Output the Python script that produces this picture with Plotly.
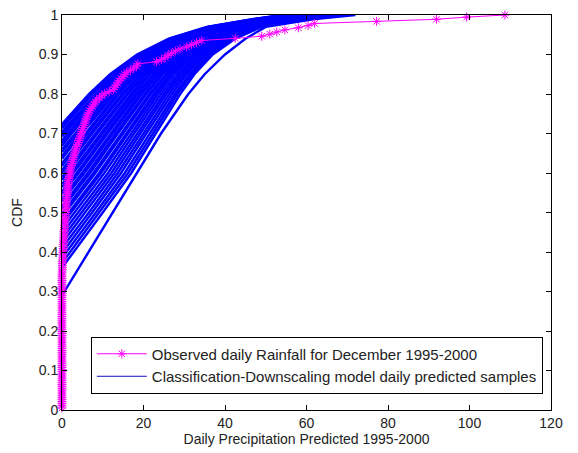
import plotly.graph_objects as go

# CDF levels at which the predicted sample curves were read
cdf_levels = [0.40, 0.50, 0.60, 0.70, 0.80, 0.85, 0.90, 0.94, 0.97, 0.99, 1.00]

# CDF value at zero rainfall (dry-day fraction) of each predicted sample
sample_dry_fraction = [
    0.724, 0.718, 0.713, 0.704, 0.698, 0.692, 0.682, 0.676, 0.669, 0.660,
    0.653, 0.643, 0.636, 0.625, 0.618, 0.607, 0.600, 0.589, 0.582, 0.572,
    0.564, 0.553, 0.546, 0.535, 0.528, 0.516, 0.509, 0.497, 0.489, 0.478,
    0.470, 0.458, 0.446, 0.434, 0.422, 0.410, 0.397, 0.385, 0.372, 0.360,
    0.290,
]

# rainfall (mm) of each predicted sample at the highest len(row) CDF levels
sample_rain_at_levels = [
    [6.6, 11.8, 18.4, 26.2, 35.5, 47.0, 54.0],
    [7.1, 12.2, 18.8, 26.5, 35.8, 47.3, 54.3],
    [7.5, 12.6, 19.1, 26.9, 36.0, 47.6, 54.6],
    [8.2, 13.2, 19.7, 27.3, 36.5, 48.0, 55.1],
    [0.2, 8.6, 13.7, 20.1, 27.7, 36.7, 48.3, 55.4],
    [0.7, 9.1, 14.1, 20.5, 28.0, 37.0, 48.5, 55.8],
    [1.4, 9.7, 14.7, 21.0, 28.5, 37.4, 49.0, 56.2],
    [1.9, 10.2, 15.1, 21.4, 28.8, 37.7, 50.6, 56.6],
    [2.4, 10.6, 15.5, 21.8, 29.1, 37.9, 49.5, 56.9],
    [3.2, 11.3, 16.2, 22.3, 29.6, 38.3, 49.9, 57.4],
    [3.7, 11.8, 16.6, 22.7, 30.0, 38.6, 50.2, 57.7],
    [4.4, 12.4, 17.2, 23.2, 30.4, 39.0, 50.6, 58.2],
    [4.9, 12.9, 17.6, 23.6, 30.8, 39.3, 50.9, 58.5],
    [5.7, 13.5, 18.2, 24.2, 31.3, 39.7, 51.3, 59.0],
    [6.2, 14.0, 18.6, 24.5, 31.6, 40.0, 51.6, 59.3],
    [6.9, 14.7, 19.3, 25.1, 32.1, 40.4, 52.0, 59.8],
    [7.4, 15.1, 19.7, 25.5, 32.4, 40.6, 52.3, 60.1],
    [0.8, 8.2, 15.8, 20.3, 26.0, 32.9, 41.0, 52.7, 60.6],
    [1.4, 8.7, 16.2, 20.7, 26.4, 33.2, 41.3, 53.0, 60.9],
    [2.2, 9.5, 16.9, 21.3, 27.0, 33.7, 41.7, 53.4, 61.4],
    [2.8, 10.0, 17.4, 21.7, 27.3, 34.0, 42.0, 53.7, 61.7],
    [3.6, 10.7, 18.0, 22.4, 27.9, 34.5, 42.4, 54.1, 62.2],
    [4.1, 11.2, 18.5, 22.8, 28.3, 34.8, 42.7, 54.4, 62.5],
    [4.9, 12.0, 19.1, 23.4, 28.8, 35.3, 43.1, 54.8, 63.0],
    [5.5, 12.5, 19.6, 23.8, 29.2, 35.7, 43.3, 55.1, 63.3],
    [6.3, 13.2, 20.3, 24.4, 29.8, 36.1, 43.7, 55.5, 63.8],
    [6.9, 13.7, 20.7, 24.8, 30.1, 36.5, 44.0, 55.8, 64.1],
    [0.2, 7.7, 14.5, 21.4, 25.5, 30.7, 37.0, 44.4, 56.2, 64.6],
    [0.8, 8.2, 15.0, 21.8, 25.9, 31.1, 37.3, 44.7, 56.5, 64.9],
    [1.7, 9.1, 15.7, 22.5, 26.5, 31.6, 37.8, 45.1, 56.9, 65.4],
    [2.2, 9.6, 16.2, 23.0, 26.9, 32.0, 38.1, 45.4, 57.2, 65.7],
    [3.1, 10.4, 17.0, 23.6, 27.5, 32.5, 38.6, 45.8, 57.6, 66.2],
    [4.0, 11.3, 17.7, 24.3, 28.2, 33.1, 39.1, 46.2, 58.1, 66.6],
    [4.8, 12.1, 18.5, 25.0, 28.8, 33.7, 39.6, 46.6, 58.5, 67.1],
    [5.7, 12.9, 19.2, 25.6, 29.4, 34.2, 40.1, 47.0, 58.9, 67.6],
    [6.6, 13.7, 20.0, 26.3, 30.0, 34.8, 40.5, 47.4, 59.3, 68.1],
    [0.2, 7.4, 14.5, 20.7, 27.0, 30.6, 35.3, 41.0, 47.8, 59.7, 68.6],
    [1.1, 8.3, 15.4, 21.5, 27.7, 31.3, 35.9, 41.5, 48.2, 60.2, 69.0],
    [2.0, 9.1, 16.2, 22.3, 28.3, 31.9, 36.4, 42.0, 48.6, 60.6, 69.5],
    [2.9, 10.0, 17.0, 23.0, 29.0, 32.5, 37.0, 42.5, 49.0, 61.0, 70.0],
    [6.5, 12.5, 18.3, 24.3, 31.0, 35.0, 40.0, 45.0, 50.0, 62.0, 72.0],
]

# observed daily rainfall, December 1995-2000 (mm), sorted
observed_daily_rain_sorted = [
    0.0, 0.0, 0.0, 0.0, 0.0, 0.0, 0.0, 0.0, 0.0, 0.0,
    0.0, 0.0, 0.0, 0.0, 0.0, 0.0, 0.0, 0.0, 0.0, 0.0,
    0.0, 0.0, 0.0, 0.0, 0.0, 0.0, 0.0, 0.0, 0.0, 0.0,
    0.0, 0.0, 0.0, 0.0, 0.0, 0.0, 0.0, 0.0, 0.0, 0.0,
    0.0, 0.0, 0.0, 0.0, 0.0, 0.0, 0.0, 0.0, 0.0, 0.0,
    0.0, 0.0, 0.0, 0.0, 0.0, 0.0, 0.0, 0.0, 0.0, 0.0,
    0.0, 0.0, 0.0, 0.0, 0.0,
    0.1, 0.1, 0.1, 0.1, 0.1, 0.2, 0.2, 0.2, 0.2, 0.3, 0.3, 0.3, 0.3,
    0.4, 0.4, 0.4, 0.5, 0.5, 0.5, 0.6, 0.6, 0.6, 0.7, 0.7,
    0.8, 0.8, 0.8, 0.9, 0.9, 1.0, 1.0, 1.0,
    1.1, 1.1, 1.2, 1.2, 1.3, 1.3, 1.4, 1.4, 1.5, 1.5,
    1.6, 1.7, 1.8, 1.9, 2.0, 2.0,
    2.1, 2.3, 2.4, 2.5, 2.7, 2.8, 3.0, 3.1, 3.3, 3.4, 3.6,
    3.8, 4.0, 4.1, 4.3, 4.5, 4.7, 4.8, 5.0, 5.2,
    5.4, 5.6, 5.7, 5.9, 6.1, 6.3, 6.5,
    6.8, 7.1, 7.5, 7.8, 8.2, 8.5,
    9.2, 9.8, 10.5, 11.6, 12.6,
    12.9, 13.3, 13.6, 14.0, 14.5, 15.0, 15.4, 15.9,
    16.8, 17.6, 18.3, 18.6,
    23.2, 24.4, 25.3, 26.0, 26.8, 27.8, 29.0, 30.6, 31.8, 33.0, 34.3,
    42.5, 49.0, 51.0, 52.7, 54.7, 58.0, 60.4, 62.0, 77.2, 91.9, 99.3, 108.7,
]

x_ticks = [0, 20, 40, 60, 80, 100, 120]
y_ticks = [0, 0.1, 0.2, 0.3, 0.4, 0.5, 0.6, 0.7, 0.8, 0.9, 1.0]
y_tick_text = ["0", "0.1", "0.2", "0.3", "0.4", "0.5", "0.6",
               "0.7", "0.8", "0.9", "1"]

FONT = "Arial, Liberation Sans, Helvetica, sans-serif"
TXT = "#222222"
BLUE = "#0000FF"
MAGENTA = "#FF00FF"
PRED_NAME = "Classification-Downscaling model daily predicted samples"

# predicted samples: one trace, curves separated by None
bx, by = [], []
for p0, row in zip(sample_dry_fraction, sample_rain_at_levels):
    lv = cdf_levels[len(cdf_levels) - len(row):]
    bx += [0.0] + row + [None]
    by += [p0] + lv + [None]

n_obs = len(observed_daily_rain_sorted)
obs_cdf = [(i + 1) / n_obs for i in range(n_obs)]

fig = go.Figure()
fig.add_trace(go.Scatter(
    x=bx, y=by, mode="lines",
    line=dict(color=BLUE, width=2.4),
    name=PRED_NAME, showlegend=False, hoverinfo="skip",
))
fig.add_trace(go.Scatter(
    x=observed_daily_rain_sorted, y=obs_cdf, mode="lines+markers",
    line=dict(color=MAGENTA, width=1),
    marker=dict(symbol="asterisk-open", size=7.5, color=MAGENTA,
                line=dict(color=MAGENTA, width=1)),
    cliponaxis=False,
    name="Observed daily Rainfall for December 1995-2000",
    legendrank=1,
))
# legend entry for the predicted samples (thin line like the original key)
fig.add_trace(go.Scatter(
    x=[None], y=[None], mode="lines",
    line=dict(color="#1010C0", width=1),
    name=PRED_NAME, legendrank=2,
))

axis_common = dict(
    showgrid=False, zeroline=False, showline=True, linecolor="black",
    linewidth=1, mirror="ticks", ticks="inside", ticklen=5, tickcolor="black",
    tickfont=dict(family=FONT, size=14, color=TXT), automargin=False,
)

fig.update_layout(
    width=578, height=453, autosize=False,
    margin=dict(l=62, r=27, t=15, b=43),
    paper_bgcolor="white", plot_bgcolor="white",
    font=dict(family=FONT, size=14, color=TXT),
    xaxis=dict(range=[0, 120], tickvals=x_ticks,
               title=dict(text="Daily Precipitation Predicted 1995-2000",
                          font=dict(family=FONT, size=14, color=TXT),
                          standoff=2),
               **axis_common),
    yaxis=dict(range=[0, 1], tickvals=y_ticks, ticktext=y_tick_text,
               title=dict(text="CDF", font=dict(family=FONT, size=14, color=TXT),
                          standoff=12),
               **axis_common),
    legend=dict(
        x=0.059, y=0.186, xanchor="left", yanchor="top",
        bgcolor="white", bordercolor="black", borderwidth=1,
        font=dict(family=FONT, size=15, color=TXT),
        itemwidth=50, tracegroupgap=0,
    ),
    showlegend=True,
)

fig.write_html("out.html",
               config={"displayModeBar": False},
               post_script="document.body.style.margin='0';")
